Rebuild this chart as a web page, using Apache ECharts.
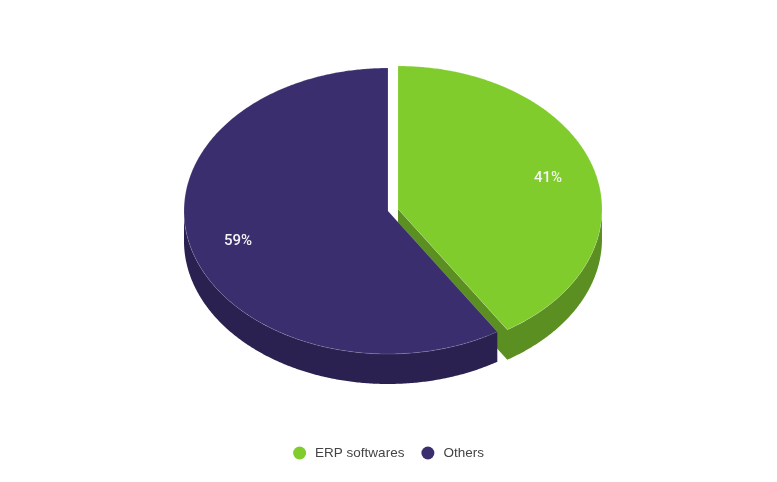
<!DOCTYPE html>
<html>
<head>
<meta charset="utf-8">
<style>html,body{margin:0;padding:0;background:#fff}#c{width:777px;height:482px}</style>
<script src="https://cdn.jsdelivr.net/npm/echarts@6/dist/echarts.min.js"></script>
</head>
<body>
<div id="c"></div>
<script>
const categories = ['ERP softwares', 'Others'];
const shares = [41, 59];
const labels = ['41%', '59%'];
const topColors = ['#7FCC2C', '#3B2E6E'];
const wallColors = ['#5B8F22', '#2B2150'];
const centers = [[398, 209], [388, 211]];

const RX = 204, RY = 143, DEPTH = 30, LABEL_R = 0.766;
const total = shares.reduce((a, b) => a + b, 0);

function pt(c, deg, f, dy) {
  const r = deg * Math.PI / 180;
  return [c[0] + RX * f * Math.sin(r), c[1] - RY * f * Math.cos(r) + (dy || 0)];
}
function arc(c, from, to, dy) {
  const out = [], n = Math.max(2, Math.ceil(Math.abs(to - from) * 2));
  for (let i = 0; i <= n; i++) out.push(pt(c, from + (to - from) * i / n, 1, dy));
  return out;
}
function renderSlice(idx) {
  return function (params, api) {
    const share = api.value(0), before = api.value(1);
    const a0 = before / total * 360, a1 = (before + share) / total * 360;
    const c = centers[idx];
    const kids = [];
    const w0 = Math.max(a0, 90), w1 = Math.min(a1, 270);
    const upper = arc(c, w0, w1, 0), lower = arc(c, w1, w0, DEPTH);
    // The first slice also shows its cut face, joined with its rim as one shape
    const wall = idx === 0
      ? upper.concat([c, [c[0], c[1] + DEPTH]], lower)
      : upper.concat(lower);
    kids.push({ type: 'polygon', shape: { points: wall }, style: { fill: wallColors[idx] } });
    kids.push({ type: 'polygon', shape: { points: [c].concat(arc(c, a0, a1, 0)) },
      style: { fill: topColors[idx], stroke: 'rgba(255,255,255,0.25)', lineWidth: 0.6 } });
    const m = (a0 + a1) / 2, p = pt(c, m, LABEL_R);
    kids.push({ type: 'text', x: p[0], y: p[1],
      style: { text: labels[idx], fill: '#f4f4f4', font: '500 15px Roboto', align: 'center', verticalAlign: 'middle' } });
    return { type: 'group', children: kids };
  };
}
let running = 0;
const series = categories.map((name, i) => {
  const s = {
    type: 'custom', name, coordinateSystem: 'none', silent: true, animation: false,
    itemStyle: { color: topColors[i] },
    renderItem: renderSlice(i),
    data: [[shares[i], running]]
  };
  running += shares[i];
  return s;
});
const chart = echarts.init(document.getElementById('c'));
chart.setOption({
  animation: false,
  backgroundColor: '#fff',
  legend: {
    data: categories, top: 441, left: 'center', icon: 'circle',
    itemWidth: 13, itemHeight: 13, itemGap: 17,
    selectedMode: false,
    textStyle: { fontFamily: 'Liberation Sans', fontSize: 13.5, color: '#444', padding: [0, 0, 0, 4] }
  },
  series
});
</script>
</body>
</html>
